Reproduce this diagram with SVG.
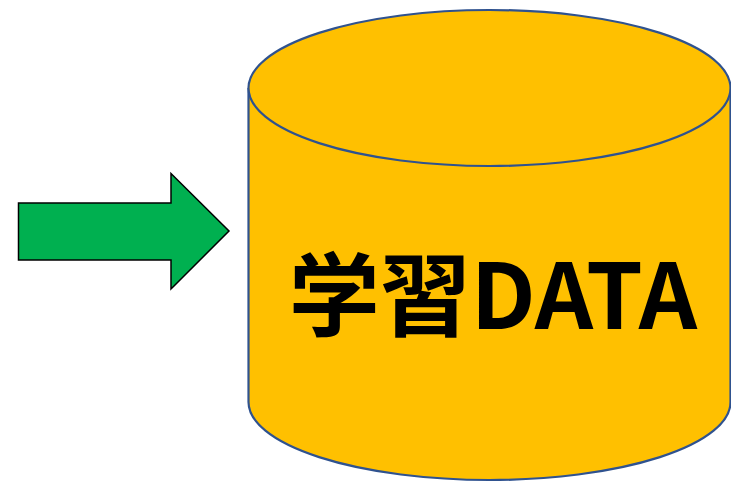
<svg xmlns="http://www.w3.org/2000/svg" width="731" height="484" viewBox="0 0 731 484">
<style>
.cyl{fill:#FFC000;stroke:#2F528F;stroke-width:2.2}
.arr{fill:#00B050;stroke:#000;stroke-width:1.5;stroke-linejoin:miter}
.lbl{font-family:"Noto Sans CJK JP","Noto Sans CJK SC",sans-serif;font-weight:bold;font-size:91px;fill:#000}
</style>
<rect width="731" height="484" fill="#fff"/>
<g id="arrow">
<polygon class="arr" points="18.5,203 171,203 171,173.5 229,231 171,289 171,260 18.5,260"/>
</g>
<g id="database">
<path class="cyl" d="M248.5,88 L248.5,402 A241,78 0 0 0 730.5,402 L730.5,88 A241,78 0 0 0 248.5,88 Z"/>
<path class="cyl" d="M248.5,88 A241,78 0 0 0 730.5,88"/>
<text class="lbl" x="493" y="329" text-anchor="middle">学習DATA</text>
</g>
</svg>
